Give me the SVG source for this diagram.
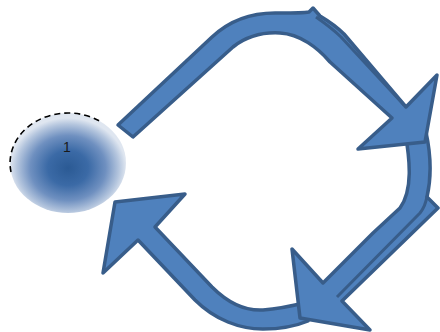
<svg xmlns="http://www.w3.org/2000/svg" width="440" height="332" viewBox="0 0 440 332">
<defs>
<radialGradient id="g1" cx="0.5" cy="0.55" r="0.5">
<stop offset="0" stop-color="#2b5a94"/>
<stop offset="0.35" stop-color="#3b6aa6"/>
<stop offset="0.65" stop-color="#6f90c0"/>
<stop offset="0.88" stop-color="#b5c6de"/>
<stop offset="1" stop-color="#dfe6f0"/>
</radialGradient>
</defs>
<style>
.arr{fill:#4f81bd;stroke:#385d8a;stroke-width:3.5;stroke-linejoin:round}
.edge{fill:none;stroke:#385d8a;stroke-width:3;stroke-linejoin:round}
.lbl{font-family:"Liberation Sans",Arial,sans-serif;font-size:14px;fill:#1a1a1a}
</style>
<rect width="440" height="332" fill="#ffffff"/>
<g id="node1">
<ellipse cx="68" cy="163" rx="58" ry="50" fill="url(#g1)"/>
<path d="M11,172 A58,50 0 0 1 100,121.3" fill="none" stroke="#000" stroke-width="1.6" stroke-dasharray="6 4"/>
<text class="lbl" x="67" y="152" text-anchor="middle">1</text>
</g>
<g id="connectors">
<g id="arrow3">
<path class="arr" d="M308,302 C292,306 278,309 263,310 C245,311 228,303 212,287 L155,227 L185,194 L115,202 L103,273 L138,240 L195,300 C215,320 240,329 263,329 C282,329 296,326 308,321 Z"/>
</g>
<g id="arrow2">
<path class="arr" d="M405,132 C410,160 413,190 400,208 L373,233 L323,283 L292,249 L300,318 L370,330 L342,301 L438,208 L427,197 C432,175 431,155 426,132 Z"/>
<path class="edge" d="M427,196 C426,203 424,208 420,213 L337,297"/>
</g>
<g id="arrow1">
<path class="arr" d="M118,125 L212,37 C232,18 255,12 280,13 C295,13 303,13 309,12 L313,8 L320,16 C330,22 337,27 344,34 L406,107 L437,75 L425,142 L358,149 L392,118 L330,62 C318,48 300,34 280,33 C262,32 247,36 233,47 L133,137 Z"/>
<path class="edge" d="M316,17 C326,24 334,30 341,37 L404,105"/>
</g>
</g>
</svg>
